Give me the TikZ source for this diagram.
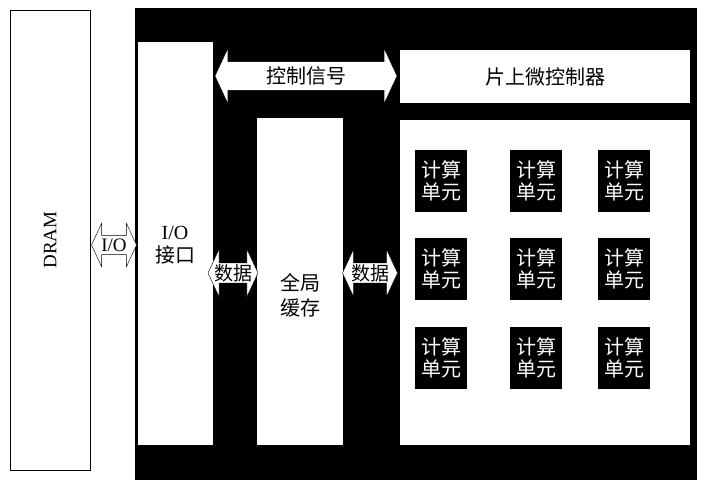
\documentclass[tikz,border=0pt]{standalone}
\usepackage{fontspec}
\setmainfont{Liberation Serif}
\newfontfamily\cjk{Noto Sans CJK SC}
\usetikzlibrary{shapes.arrows,positioning}
\begin{document}
\begin{tikzpicture}[x=1pt,y=-1pt,
    whitebox/.style={draw=black, fill=white, thick},
    unitbox/.style={fill=black, text=white, minimum width=52pt, minimum height=62pt, align=center, inner sep=0pt, font=\cjk\fontsize{20}{22}\selectfont},
    dblarrow/.style={shape=double arrow, draw=black, fill=white, inner xsep=0pt, inner ysep=0pt, double arrow tip angle=130}]
    \useasboundingbox (0,0) rectangle (713,487);
    \node[whitebox, minimum width=80pt, minimum height=460pt] (dram) at (50,240) {};
    \node[rotate=90, font=\fontsize{19}{20}\selectfont] at (dram) {DRAM};

    \fill[black] (135,8) rectangle (697,480);
    \node[whitebox, minimum width=75pt, minimum height=403pt, draw=none] (io) at (175.5,243.5) {};
    \node[align=center, font=\fontsize{20}{23}\selectfont] at (175,245) {I/O\\{\cjk 接口}};
    \node[whitebox, minimum width=86pt, minimum height=327pt, draw=none] (cache) at (300,281.5) {};
    \node[align=center, font=\cjk\fontsize{20}{25}\selectfont] at (300,295) {全局\\缓存};
    \node[whitebox, minimum width=290pt, minimum height=53pt, draw=none, font=\cjk\fontsize{20}{22}\selectfont] (mcu) at (545,76.5) {片上微控制器};
    \node[whitebox, minimum width=290pt, minimum height=325pt, draw=none] (pe) at (545,282.5) {};

    % compute units
    \foreach \cx in {441,536,624}
      \foreach \cy in {181,269,358}
        \node[unitbox] at (\cx,\cy) {计算\\单元};

    \node[dblarrow, minimum height=45pt, inner ysep=3pt, double arrow head extend=12pt, font=\fontsize{19}{20}\selectfont] (iolink) at (114,245) {I/O};
    \node[dblarrow, minimum height=182pt, inner ysep=5pt, double arrow head extend=13pt, font=\cjk\fontsize{20}{22}\selectfont] (ctrl) at (306,76) {控制信号};
    \node[dblarrow, minimum height=50pt, inner ysep=1pt, double arrow head extend=14pt, font=\cjk\fontsize{19}{20}\selectfont] (data1) at (233,273) {数据};
    \node[dblarrow, minimum height=55pt, inner ysep=1pt, double arrow head extend=14pt, font=\cjk\fontsize{19}{20}\selectfont] (data2) at (370,273) {数据};
\end{tikzpicture}
\end{document}
